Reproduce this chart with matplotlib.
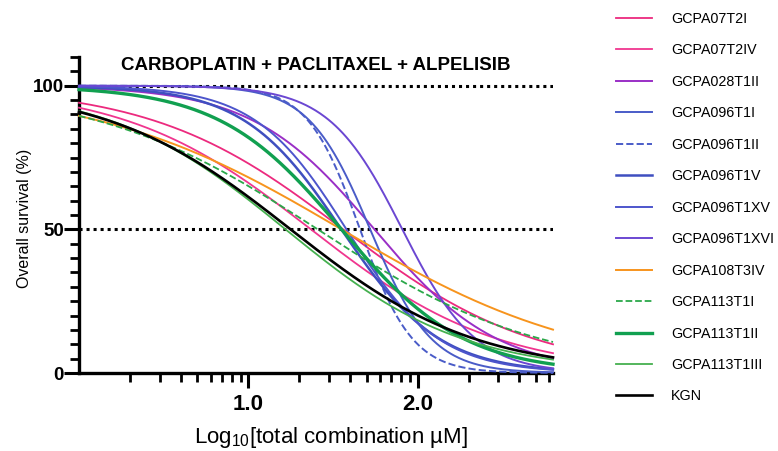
# -*- coding: utf-8 -*-

import numpy as np
import matplotlib
matplotlib.use('Agg')
import matplotlib.pyplot as plt
from matplotlib.ticker import FixedLocator, FuncFormatter, NullFormatter

# fitted dose-response parameters (top = 100, bottom = 0)
cell_lines = ['GCPA07T2I', 'GCPA07T2IV', 'GCPA028T1II', 'GCPA096T1I', 'GCPA096T1II',
              'GCPA096T1V', 'GCPA096T1XV', 'GCPA096T1XVI', 'GCPA108T3IV', 'GCPA113T1I',
              'GCPA113T1II', 'GCPA113T1III', 'KGN']
log_ic50 = [1.56, 1.37, 1.745, 1.72, 1.66, 1.55, 1.58, 1.91, 1.55, 1.41, 1.55, 1.22, 1.25]
hill = [0.77, 0.79, 1.2, 2.4, 2.8, 1.5, 1.6, 2.0, 0.60, 0.66, 1.2, 0.83, 0.80]
top = 100.0
bottom = 0.0

colors = ['#ec2a7e', '#f0368f', '#9a2fc6', '#4a5cc8', '#4a5cc8', '#3f4fc0', '#4d55cc',
          '#6b47d2', '#f7941d', '#2ba84a', '#11a050', '#45b04f', '#000000']
styles = ['-', '-', '-', '-', '--', '-', '-', '-', '-', '--', '-', '-', '-']
widths = [1.3, 1.3, 1.4, 1.4, 1.4, 1.8, 1.4, 1.4, 1.4, 1.3, 2.4, 1.3, 1.9]


def create_plot():
	plt.rcParams['font.family'] = ['Liberation Sans', 'DejaVu Sans']
	plt.rcParams['mathtext.default'] = 'regular'

	fig = plt.figure(figsize=(7.78, 4.51), dpi=100)
	ax = fig.add_axes([79 / 778, 78 / 451, 474 / 778, 316 / 451])

	x = np.logspace(0, 2.8, 400)
	lx = np.log10(x)
	for i, name in enumerate(cell_lines):
		y = bottom + (top - bottom) / (1 + 10 ** ((lx - log_ic50[i]) * hill[i]))
		ax.plot(x, y, color=colors[i], linestyle=styles[i], linewidth=widths[i],
		        label=name, clip_on=False, zorder=3)

	# reference levels
	for level in (100, 50):
		ax.plot([1, 10 ** 2.8], [level, level], linestyle=(0, (1, 1.3)),
		        color='black', linewidth=2.2, zorder=2)

	ax.set_xscale('log')
	ax.set_xlim(1, 10 ** 2.8)
	ax.set_ylim(0, 110)

	ax.xaxis.set_major_locator(FixedLocator([10, 100]))
	ax.xaxis.set_major_formatter(FuncFormatter(lambda v, p: '%.1f' % np.log10(v)))
	minors = [m * d for d in (1, 10, 100) for m in range(2, 10) if m * d < 10 ** 2.8]
	ax.xaxis.set_minor_locator(FixedLocator(minors))
	ax.xaxis.set_minor_formatter(NullFormatter())

	ax.yaxis.set_major_locator(FixedLocator([0, 50, 100]))
	ax.yaxis.set_minor_locator(FixedLocator([v for v in range(5, 111, 5) if v not in (50, 100)]))

	for side in ('top', 'right'):
		ax.spines[side].set_visible(False)
	for side in ('left', 'bottom'):
		ax.spines[side].set_linewidth(2.4)

	ax.tick_params(which='major', direction='out', length=11, width=2.2)
	ax.tick_params(which='minor', direction='out', length=6.5, width=2.0)
	ax.tick_params(axis='x', which='major', labelsize=16, pad=4)
	ax.tick_params(axis='y', which='major', labelsize=13.5, pad=0)
	for lab in ax.get_xticklabels() + ax.get_yticklabels():
		lab.set_fontweight('bold')

	ax.set_ylabel('Overall survival (%)', fontsize=11.5)
	ax.yaxis.set_label_coords(-0.10, 0.49)
	ax.set_xlabel('Log$_{10}$[total combination µM]', fontsize=16)
	ax.xaxis.set_label_coords(0.532, -0.165)
	ax.text(0.5, 1.0, 'CARBOPLATIN + PACLITAXEL + ALPELISIB', transform=ax.transAxes,
	        ha='center', va='top', fontsize=13.5, fontweight='bold')

	fig.legend(loc='upper left', bbox_to_anchor=(616 / 778, 1 - 12 / 451), frameon=False,
	           fontsize=10.3, handlelength=2.5, handletextpad=1.33, labelspacing=1.22,
	           borderpad=0, borderaxespad=0)

	fig.savefig('out.png', dpi=100)


if __name__ == '__main__':
	create_plot()
